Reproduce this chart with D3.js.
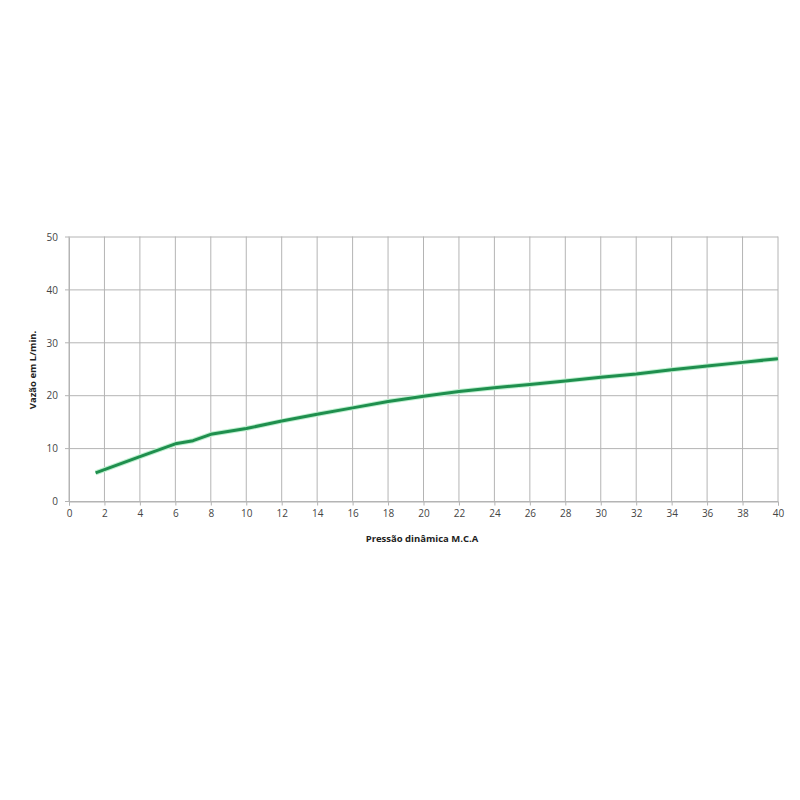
<!DOCTYPE html>
<html lang="pt">
<head>
    <meta charset="UTF-8">
    <title>Vazão x Pressão</title>
    <script src="https://d3js.org/d3.v7.min.js"></script>
    <style>
        body { margin: 0; padding: 0; background: #fff; }
        svg { display: block; }
        .grid line { stroke: #b4b4b4; stroke-width: 1; }
        .tick text { font-family: "Open Sans", sans-serif; font-size: 10px; fill: #444; }
        .titulo { font-family: "Open Sans", sans-serif; font-size: 9.5px; font-weight: bold; fill: #222; }
    </style>
</head>
<body>
<div id="chart"></div>
<script>
    // dados
    const pressao = [1.5, 4, 6, 7, 8, 10, 12, 14, 16, 18, 20, 22, 24, 26, 28, 30, 32, 34, 36, 38, 40];
    const vazao   = [5.4, 8.5, 10.9, 11.5, 12.7, 13.8, 15.2, 16.5, 17.7, 18.9, 19.9, 20.8, 21.5, 22.1, 22.8, 23.5, 24.1, 24.9, 25.6, 26.3, 27.0];
    const xTicks = d3.range(0, 41, 2);
    const yTicks = [0, 10, 20, 30, 40, 50];

    const width = 800, height = 800;
    const margin = { left: 69, right: 22, top: 237, bottom: 298.5 };

    const svg = d3.select("#chart").append("svg")
        .attr("width", width)
        .attr("height", height);

    const x = d3.scaleLinear().domain([0, 40]).range([margin.left, width - margin.right]);
    const y = d3.scaleLinear().domain([0, 50]).range([height - margin.bottom, margin.top]);

    // grade vertical
    svg.append("g").attr("class", "grid")
        .selectAll("line").data(xTicks).enter().append("line")
        .attr("x1", d => x(d)).attr("x2", d => x(d))
        .attr("y1", y(0)).attr("y2", y(50) - 0.5);

    // grade horizontal
    svg.append("g").attr("class", "grid")
        .selectAll("line").data(yTicks).enter().append("line")
        .attr("x1", x(0) - 4).attr("x2", x(40))
        .attr("y1", d => y(d)).attr("y2", d => y(d));

    // eixo x
    const xAxis = svg.append("g")
        .attr("transform", `translate(0,${y(0)})`)
        .call(d3.axisBottom(x).tickValues(xTicks).tickSize(4).tickPadding(4));
    xAxis.select(".domain").attr("stroke", "#b4b4b4");
    xAxis.selectAll(".tick line").attr("stroke", "#b4b4b4");

    // eixo y
    const yAxis = svg.append("g")
        .attr("transform", `translate(${x(0)},0)`)
        .call(d3.axisLeft(y).tickValues(yTicks).tickSize(0).tickPadding(11));
    yAxis.select(".domain").attr("stroke", "#b4b4b4");

    // curva
    const line = d3.line()
        .x((d, i) => x(pressao[i]))
        .y(d => y(d));

    svg.append("path")
        .datum(vazao)
        .attr("fill", "none")
        .attr("stroke", "#bff0d0")
        .attr("stroke-width", 5)
        .attr("stroke-linejoin", "round")
        .attr("d", line);

    svg.append("path")
        .datum(vazao)
        .attr("fill", "none")
        .attr("stroke", "#1f8f4e")
        .attr("stroke-width", 3)
        .attr("stroke-linejoin", "round")
        .attr("d", line);

    // títulos
    svg.append("text")
        .attr("class", "titulo")
        .attr("text-anchor", "middle")
        .attr("x", 422)
        .attr("y", 542)
        .text("Pressão dinâmica M.C.A");

    svg.append("text")
        .attr("class", "titulo")
        .attr("text-anchor", "middle")
        .attr("transform", "translate(36,370) rotate(-90)")
        .text("Vazão em L/min.");
</script>
</body>
</html>
